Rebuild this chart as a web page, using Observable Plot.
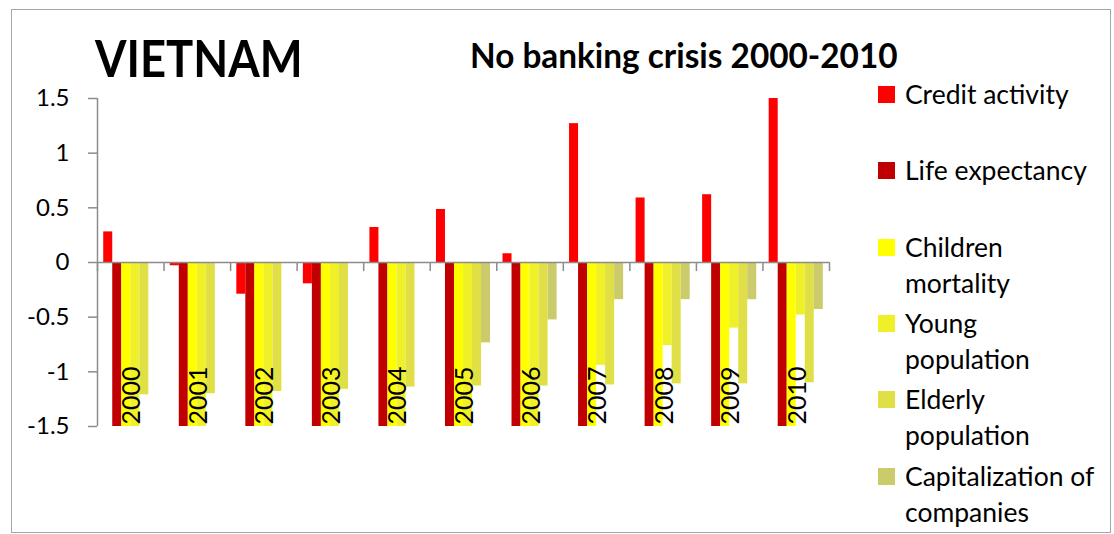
<!DOCTYPE html>
<html>
<head>
<meta charset="utf-8">
<script src="https://cdn.jsdelivr.net/npm/d3@7"></script>
<script src="https://cdn.jsdelivr.net/npm/@observablehq/plot@0.6"></script>
<style>
  html, body { margin: 0; padding: 0; background: #fff; }
  #wrap { position: relative; width: 1114px; height: 534px; overflow: hidden; font-family: Lato, "Open Sans", sans-serif; color: #000; }
  #frame { position: absolute; left: 11px; top: 9px; width: 1098px; height: 522px; border: 1.5px solid #a6a6a6; box-sizing: content-box; }
  #chart { position: absolute; left: 0; top: 0; }
  .title { position: absolute; font-weight: bold; line-height: 1; white-space: nowrap; transform-origin: left top; }
  .leg { position: absolute; left: 878px; display: flex; align-items: flex-start; }
  .leg .sw { width: 17px; height: 17px; margin-top: 10.3px; flex: none; }
  .leg .tx { margin-left: 10px; font-size: 26.5px; line-height: 36px; white-space: nowrap; }
</style>
</head>
<body>
<div id="wrap">
  <div id="frame"></div>
  <div id="chart"></div>
  <div class="title" id="t1" style="left:95px; top:32px; font-size:51px; transform: scaleX(0.89);"></div>
  <div class="title" id="t2" style="left:470px; top:38px; font-size:34px; transform: scaleX(0.98);"></div>
  <div id="legend"></div>
</div>
<script>
// ---- data ----
const countryTitle = "VIETNAM";
const subTitle = "No banking crisis 2000-2010";
const years = ["2000","2001","2002","2003","2004","2005","2006","2007","2008","2009","2010"];
const seriesNames = ["Credit activity","Life expectancy","Children mortality","Young population","Elderly population","Capitalization of companies"];
const legendLines = [["Credit activity"],["Life expectancy"],["Children","mortality"],["Young","population"],["Elderly","population"],["Capitalization of","companies"]];
const seriesColors = ["#ff0000","#c00000","#ffff00","#f0f028","#e0e046","#cbcb6b"];
const creditActivity = [0.28, -0.03, -0.29, -0.195, 0.32, 0.485, 0.08, 1.27, 0.59, 0.62, 1.50];
const lifeExpectancy = [-1.5, -1.5, -1.5, -1.5, -1.5, -1.5, -1.5, -1.5, -1.5, -1.5, -1.5];
const childrenMortality = [-1.5, -1.5, -1.5, -1.5, -1.5, -1.5, -1.5, -1.5, -1.5, -1.5, -1.5];
const youngPopulation = [-1.5, -1.5, -1.5, -1.5, -1.5, -1.5, -1.5, -0.94, -0.76, -0.60, -0.48];
const elderlyPopulation = [-1.21, -1.20, -1.18, -1.16, -1.14, -1.13, -1.13, -1.12, -1.11, -1.11, -1.10];
const capitalization = [null, null, null, null, null, -0.735, -0.525, -0.34, -0.34, -0.34, -0.43];
const yTicks = [-1.5, -1, -0.5, 0, 0.5, 1, 1.5];

const allSeries = [creditActivity, lifeExpectancy, childrenMortality, youngPopulation, elderlyPopulation, capitalization];
const data = years.flatMap((yr, i) => seriesNames.map((s, j) => ({year: yr, series: s, value: allSeries[j][i]})))
  .filter(d => d.value != null);

// ---- layout ----
const W = 840, H = 534, mL = 97, mR = 11, mT = 98, mB = 108;
const facetW = (W - mL - mR) / years.length;
const axisGray = "#8c8c8c";

const chart = Plot.plot({
  width: W, height: H,
  marginLeft: mL, marginRight: mR, marginTop: mT, marginBottom: mB,
  style: {fontFamily: "Lato, sans-serif", background: "transparent", color: "#000"},
  fx: {domain: years, padding: 0, axis: null, round: false},
  x: {domain: seriesNames, paddingInner: 0, paddingOuter: 0.69, axis: null, round: false},
  y: {domain: [-1.5, 1.5], axis: null},
  color: {domain: seriesNames, range: seriesColors},
  marks: [
    Plot.barY(data, {fx: "year", x: "series", y: "value", fill: "series", clip: true}),
    Plot.ruleY([0], {stroke: axisGray, strokeWidth: 1.5}),
    // category separators below zero line
    Plot.ruleX(years, {fx: d => d, x: null, y1: 0, y2: -0.083, dx: -facetW / 2, stroke: axisGray, strokeWidth: 1.5}),
    Plot.ruleX([years[years.length - 1]], {fx: d => d, x: null, y1: 0, y2: -0.083, dx: facetW / 2, stroke: axisGray, strokeWidth: 1.5}),
    // left axis line
    Plot.ruleX([years[0]], {fx: d => d, x: null, y1: -1.5, y2: 1.5, dx: -facetW / 2, stroke: axisGray, strokeWidth: 1.5}),
    Plot.axisY({ticks: yTicks, label: null, tickSize: 9, tickPadding: 19, tickFormat: d => String(d), fontSize: 24, stroke: axisGray, fill: "#000", strokeWidth: 1.5}),
    Plot.text(years, {fx: d => d, text: d => d, frameAnchor: "bottom", rotate: -90, textAnchor: "start", lineAnchor: "middle", dy: -2, dx: 1.5, fontSize: 25, fill: "#000"})
  ]
});
document.getElementById("chart").appendChild(chart);

document.getElementById("t1").textContent = countryTitle;
document.getElementById("t2").textContent = subTitle;

const legendTops = [75.7, 151.7, 228.7, 304.7, 380.7, 457.7];
const legend = document.getElementById("legend");
seriesNames.forEach((s, i) => {
  const item = document.createElement("div");
  item.className = "leg";
  item.style.top = legendTops[i] + "px";
  const sw = document.createElement("div");
  sw.className = "sw";
  sw.style.background = seriesColors[i];
  const tx = document.createElement("div");
  tx.className = "tx";
  tx.innerHTML = legendLines[i].join("<br>");
  item.appendChild(sw); item.appendChild(tx);
  legend.appendChild(item);
});
</script>
</body>
</html>
